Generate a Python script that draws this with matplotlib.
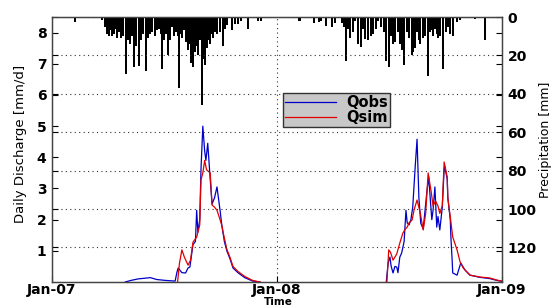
import matplotlib
matplotlib.use('Agg')
import matplotlib.pyplot as plt
import numpy as np

# ---- data (days since 2007-01-01) ----
nan = np.nan
qobs_day = [119, 128, 140, 150, 160, 170, 185, 200, 203, 205, 211, 217, 221, 224, 229, 233, 235, 237, 240,
            242, 245, 248, 250, 253, 257, 260, 264, 268, 273, 276, 280, 284, 289, 294, 302, 313, 326, 338,
            400,
            543, 546, 549, 551, 554, 557, 560, 562, 565, 568, 572, 575, 577, 580, 583, 586, 590, 593, 596,
            599, 603, 606, 609, 612, 614, 617, 619, 622, 625, 627, 630, 634, 637, 638, 642, 643, 647, 648,
            650, 651, 658, 664, 671, 679, 695, 711, 723, 731]
qobs = [0.0, 0.05, 0.1, 0.12, 0.14, 0.08, 0.05, 0.03, 0.32, 0.45, 0.3, 0.29, 0.45, 0.48, 1.2, 1.3, 2.3, 1.6, 2.0,
        3.6, 5.0, 4.2, 3.9, 4.45, 3.3, 2.5, 2.7, 3.05, 2.3, 1.8, 1.3, 1.0, 0.75, 0.45, 0.3, 0.14, 0.03, 0.0,
        nan,
        0.0, 0.6, 0.8, 0.5, 0.29, 0.5, 0.48, 0.3, 0.8, 0.93, 1.3, 2.3, 1.9, 1.83, 2.0, 2.4, 3.7, 4.58, 2.7,
        1.89, 1.7, 2.3, 2.9, 3.37, 2.8, 2.0, 2.3, 3.05, 1.76, 2.1, 1.67, 2.4, 3.6, 3.7, 3.3, 2.7, 2.0, 1.44,
        0.7, 0.29, 0.22, 0.61, 0.38, 0.22, 0.15, 0.11, 0.05, 0.02]

qsim_day = [204, 207, 211, 215, 221, 225, 229, 235, 240, 242, 245, 248, 251, 257, 260, 264, 268, 273, 276, 279,
            284, 289, 294, 302, 313, 326, 338,
            400,
            544, 547, 550, 554, 557, 560, 565, 570, 574, 577, 580, 585, 588, 593, 598, 603, 607, 611, 616, 619,
            623, 627, 630, 634, 637, 642, 643, 647, 651, 658, 663, 668, 679, 695, 711, 723, 731]
qsim = [0.0, 0.6, 1.03, 0.8, 0.54, 0.7, 1.28, 1.44, 1.83, 3.27, 3.5, 3.9, 3.6, 3.5, 2.47, 2.4, 2.3, 2.0, 1.8, 1.5,
        1.05, 0.8, 0.5, 0.34, 0.18, 0.05, 0.0,
        nan,
        0.0, 1.03, 0.95, 0.7, 0.8, 0.9, 1.25, 1.57, 1.7, 1.76, 1.9, 1.99, 2.3, 2.63, 2.24, 1.67, 2.2, 3.5, 2.89, 2.44,
        2.6, 2.44, 2.2, 2.44, 3.85, 3.37, 2.7, 2.08, 1.44, 1.03, 0.64, 0.45, 0.22, 0.16, 0.13, 0.06, 0.03]

precip_day = [38, 81, 86, 89, 93, 94, 97, 101, 102, 106, 109, 112, 115, 120, 123, 127, 130, 133, 136, 141, 145,
              148, 153, 156, 159, 162, 167, 171, 174, 177, 179, 182, 185, 188, 192, 195, 198, 201, 205, 206,
              208, 211, 214, 218, 221, 224, 226, 229, 232, 236, 237, 240, 244, 245, 249, 252, 253, 257, 260,
              262, 265, 268, 273, 278, 281, 284, 292, 297, 302, 307, 318, 335, 340,
              402, 426, 434, 437, 445, 455, 460, 471, 474, 478, 481, 484, 489, 492, 497, 502, 505, 508, 513,
              518, 521, 526, 530, 534, 539, 543, 547, 551, 554, 557, 562, 565, 569, 572, 577, 580, 585, 586,
              590, 593, 596, 598, 603, 606, 611, 614, 617, 619, 622, 625, 627, 630, 635, 640, 643, 647, 651,
              658, 663, 687, 703]
precip = [2.8, 1.5, 5, 9, 10, 7, 10, 9, 6, 11, 8, 11, 10, 29.6, 12, 14, 10, 26, 15, 25.5, 12,
          9, 28, 11, 9, 8, 10, 7, 6, 9, 27, 12, 9, 20, 12, 5, 10, 8, 10, 37,
          9, 11, 7, 13, 17, 14, 24, 26, 18, 15, 20, 12, 46, 22, 25, 16, 12, 14, 9,
          11, 8, 9, 8, 15, 6, 4, 7, 3.5, 3.5, 2, 6, 2, 2,
          2, 3, 2.5, 2, 4.5, 5, 3, 3, 5, 22.7, 6, 11, 8, 2, 14, 15.5, 6, 11.5, 12,
          10, 9, 6, 2, 5, 8, 22.7, 26, 10, 14, 13, 8, 14, 17, 25, 8, 11, 20, 18,
          16, 8, 12, 14, 11, 10, 30.5, 8, 7, 10, 6, 9, 11, 10, 27, 8, 5, 9, 10,
          2.5, 1.5, 1, 12]

x_tick_days = [0, 365, 731]
x_tick_labels = ['Jan-07', 'Jan-08', 'Jan-09']
q_ticks = [1, 2, 3, 4, 5, 6, 7, 8]
p_ticks = [0, 20, 40, 60, 80, 100, 120]

# ---- figure ----
fig = plt.figure(figsize=(5.55, 3.07), dpi=100)
ax1 = fig.add_axes([0.0937, 0.0814, 0.8108, 0.8632])
ax2 = ax1.twinx()

ax1.plot(qobs_day, qobs, color='#0000c8', lw=0.9, label='Qobs', zorder=3)
ax1.plot(qsim_day, qsim, color='#e00000', lw=0.9, label='Qsim', zorder=4)
ax2.bar(precip_day, precip, width=3.4, color='black', align='center', linewidth=0)

ax1.set_xlim(0, 731)
ax1.set_ylim(0, 8.5)
ax2.set_ylim(138, 0)

bold = dict(fontsize=10, fontweight='bold', family='DejaVu Sans')
ax1.set_xticks(x_tick_days)
ax1.set_xticklabels(x_tick_labels, **bold)
ax1.set_yticks(q_ticks)
ax1.set_yticklabels([str(t) for t in q_ticks], **bold)
ax2.set_yticks(p_ticks)
ax2.set_yticklabels([str(t) for t in p_ticks], **bold)

ax1.tick_params(axis='both', direction='in', length=4, width=0.8, pad=4, right=True, top=False)
ax1.tick_params(axis='x', pad=1)
ax2.tick_params(axis='y', direction='in', length=4, width=0.8, pad=4, left=True)

# grid
ax2.yaxis.grid(True, linestyle=(0, (1, 3)), color='#333333', lw=0.8)
ax1.xaxis.grid(True, linestyle=(0, (1, 3)), color='#333333', lw=0.8)

for ax in (ax1, ax2):
    for s in ax.spines.values():
        s.set_color('#444444')
        s.set_linewidth(0.9)

ax1.set_xlabel('Time', fontsize=7.5, fontweight='bold', va='bottom')
ax1.xaxis.set_label_coords(278 / 555, 0.0, transform=fig.transFigure)
ax1.set_ylabel('Daily Discharge [mm/d]', fontsize=9.5)
ax1.yaxis.set_label_coords(-0.055, 0.52)
ax2.set_ylabel('Precipitation [mm]', fontsize=9)
ax2.yaxis.set_label_coords(1.083, 0.535)

h, l = ax1.get_legend_handles_labels()
leg = ax2.legend(h, l, loc='upper left', bbox_to_anchor=(283 / 555, 1 - 93 / 307),
                 bbox_transform=fig.transFigure, fancybox=False, frameon=True,
                 prop=dict(weight='bold', size=10.5), handlelength=3.5, borderpad=0.15,
                 labelspacing=0.0, handletextpad=0.7, borderaxespad=0)
leg.get_frame().set_facecolor('#c8c8c8')
leg.get_frame().set_edgecolor('#333333')
leg.get_frame().set_alpha(1)
leg.get_frame().set_linewidth(1.0)

fig.savefig('out.png', dpi=100)
